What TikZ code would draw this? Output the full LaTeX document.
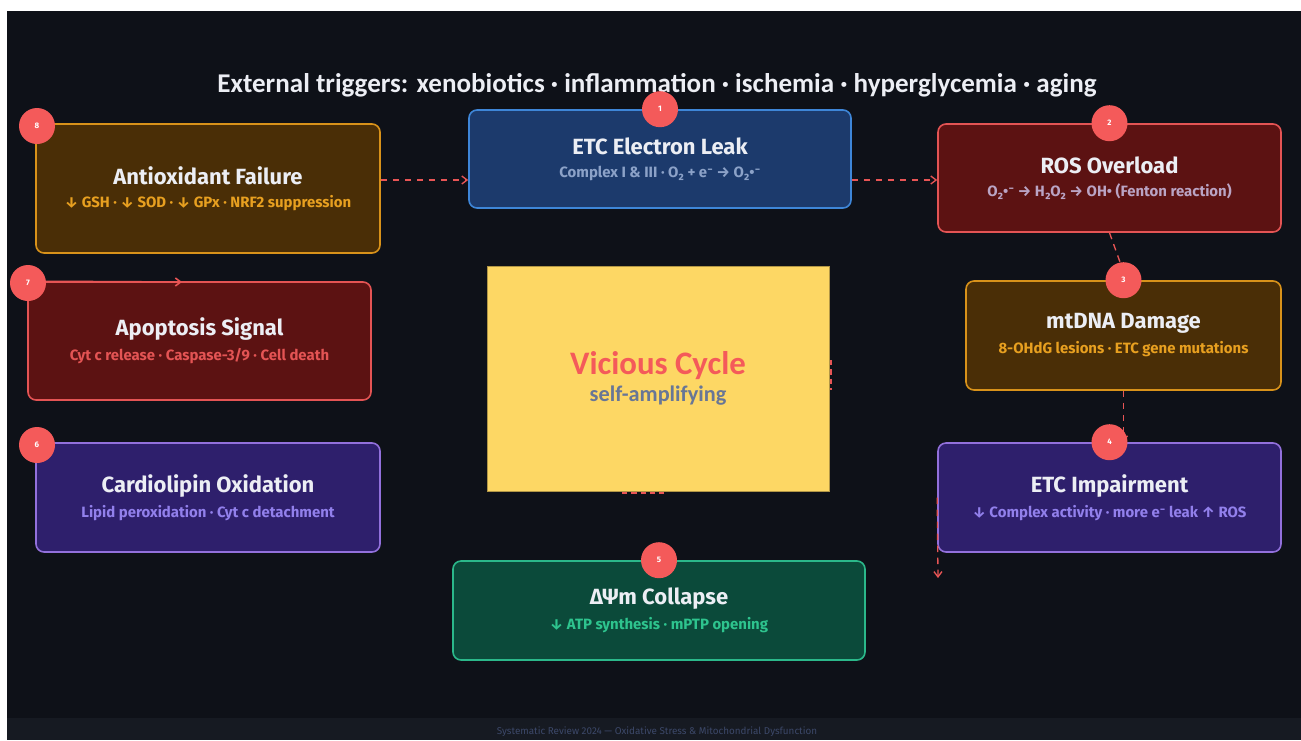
\documentclass[tikz,border=0pt]{standalone}
\usepackage{fontspec}
\setmainfont{Fira Sans}
\newfontfamily\calfont{Carlito}
\usepackage{tikz}
\usetikzlibrary{
    positioning,
    arrows.meta,
    calc
}
\definecolor{bgDark}{RGB}{14, 17, 24}
\definecolor{footBand}{RGB}{22, 26, 34}
\definecolor{footText}{RGB}{60, 72, 105}
\definecolor{textWhite}{RGB}{236, 238, 244}
\definecolor{linkRed}{RGB}{232, 85, 85}
\definecolor{badgeRed}{RGB}{244, 90, 90}
\definecolor{amberFill}{RGB}{74, 46, 6}
\definecolor{amberLine}{RGB}{216, 146, 26}
\definecolor{amberText}{RGB}{232, 160, 32}
\definecolor{navyFill}{RGB}{28, 58, 108}
\definecolor{navyLine}{RGB}{62, 134, 216}
\definecolor{navyText}{RGB}{140, 162, 200}
\definecolor{maroonFill}{RGB}{92, 18, 18}
\definecolor{maroonLine}{RGB}{228, 84, 84}
\definecolor{maroonText}{RGB}{186, 164, 196}
\definecolor{violetFill}{RGB}{46, 31, 108}
\definecolor{violetLine}{RGB}{146, 112, 220}
\definecolor{violetText}{RGB}{146, 128, 236}
\definecolor{greenFill}{RGB}{11, 74, 58}
\definecolor{greenLine}{RGB}{43, 184, 138}
\definecolor{greenText}{RGB}{46, 196, 142}
\definecolor{cycleFill}{RGB}{253, 215, 100}
\definecolor{cycleGray}{RGB}{104, 118, 150}

\newcommand{\hd}[1]{{\fontsize{16.5}{18}\selectfont\bfseries\color{textWhite}#1}}
\newcommand{\subln}[2]{{\fontsize{11.2}{13}\selectfont\bfseries\color{#1}#2}}

\begin{document}
\begin{tikzpicture}[x=0.75pt, y=-0.75pt, >={Straight Barb[length=4pt, width=6pt]},
    box/.style={draw, rounded corners=6pt, line width=1.2pt, align=center,
        inner sep=0pt},
    badge/.style={circle, fill=badgeRed, minimum size=27pt, inner sep=0pt,
        text=white, font=\fontsize{6}{6}\selectfont\bfseries},
    flow/.style={->, dashed, line width=1pt, linkRed, dash pattern=on 5pt off 4pt}
    ]
    \useasboundingbox (0,0) rectangle (1301,740);
    \fill[white] (0,0) rectangle (1301,740);
    \fill[bgDark] (7,11) rectangle (1301,740);
    \fill[footBand] (7,718) rectangle (1301,740);

    \node[font=\calfont\fontsize{20.3}{22}\selectfont\bfseries, text=textWhite] (triggers) at (657,85)
        {External triggers: xenobiotics · inflammation · ischemia · hyperglycemia · aging};

    % fragments of the loop behind the centre panel
    \draw[dashed, line width=1.2pt, linkRed, dash pattern=on 4pt off 3pt] (831,360) -- (831,390);
    \draw[dashed, line width=1.2pt, linkRed, dash pattern=on 4pt off 3pt] (622,493) -- (664,493);

    % boxes
    \node[box, fill=amberFill, draw=amberLine, minimum width=258pt, minimum height=96.75pt] (aox) at (208,188.5)
        {\hd{Antioxidant Failure}\\[5pt]\subln{amberText}{↓ GSH · ↓ SOD · ↓ GPx · NRF2 suppression}};
    \node[box, fill=navyFill, draw=navyLine, minimum width=286.5pt, minimum height=73.5pt] (leak) at (660,159)
        {\hd{ETC Electron Leak}\\[5pt]\subln{navyText}{Complex I \& III · O₂ + e⁻ → O₂•⁻}};
    \node[box, fill=maroonFill, draw=maroonLine, minimum width=257.25pt, minimum height=81pt] (ros) at (1109.5,178)
        {\hd{ROS Overload}\\[5pt]\subln{maroonText}{O₂•⁻ → H₂O₂ → OH• (Fenton reaction)}};
    \node[box, fill=maroonFill, draw=maroonLine, minimum width=257.25pt, minimum height=88.5pt] (apo) at (199.5,341)
        {\hd{Apoptosis Signal}\\[5pt]\subln{maroonLine}{Cyt c release · Caspase-3/9 · Cell death}};
    \node[box, fill=amberFill, draw=amberLine, minimum width=236.25pt, minimum height=81.75pt] (mtdna) at (1123.5,335.5)
        {\hd{mtDNA Damage}\\[5pt]\subln{amberText}{8-OHdG lesions · ETC gene mutations}};
    \node[box, fill=violetFill, draw=violetLine, minimum width=258pt, minimum height=81.75pt] (cardio) at (208,497.5)
        {\hd{Cardiolipin Oxidation}\\[5pt]\subln{violetText}{Lipid peroxidation · Cyt c detachment}};
    \node[box, fill=violetFill, draw=violetLine, minimum width=257.25pt, minimum height=81.75pt] (eimp) at (1109.5,497.5)
        {\hd{ETC Impairment}\\[5pt]\subln{violetText}{↓ Complex activity · more e⁻ leak ↑ ROS}};
    \node[box, fill=greenFill, draw=greenLine, minimum width=309pt, minimum height=74.25pt] (dpsi) at (659,610.5)
        {\hd{ΔΨm Collapse}\\[5pt]\subln{greenText}{↓ ATP synthesis · mPTP opening}};

    % centre panel
    \node[fill=cycleFill, draw=cycleFill!70!black, line width=0.4pt, minimum width=256.5pt, minimum height=168.75pt,
        align=center, inner sep=0pt] (cycle) at (658,378.5)
        {{\calfont\fontsize{24.6}{26}\selectfont\bfseries\color{badgeRed}Vicious Cycle}\\[4pt]
         {\calfont\fontsize{16.7}{18}\selectfont\bfseries\color{cycleGray}self-amplifying}};

    % connectors
    \coordinate (lane) at (0,180);
    \coordinate (drop) at (938,578);
    \coordinate (apoTip) at (182,282);
    \draw[flow] (aox.east |- lane) -- (leak.west |- lane);
    \draw[flow] (leak.east |- lane) -- (ros.west |- lane);
    \draw[flow, -] (ros.south) -- (1125,276);
    \draw[flow] (mtdna.south) -- (mtdna.south |- eimp.north);
    \draw[flow] (eimp.west) -- (drop);
    \draw[->, line width=1.2pt, linkRed] (apo.north west) -- (apoTip);

    % step badges
    \node[badge] (b1) at (leak.north) {1};
    \node[badge] (b2) at (ros.north) {2};
    \node[badge] (b3) at (mtdna.north) {3};
    \node[badge] (b4) at (eimp.north) {4};
    \node[badge] (b5) at (dpsi.north) {5};
    \node[badge] (b6) at (37,445) {6};
    \node[badge] (b7) at (28,283) {7};
    \node[badge] (b8) at (37,126) {8};

    \node[font=\fontsize{7.4}{8}\selectfont, text=footText] (footer) at (657,732)
        {Systematic Review 2024 — Oxidative Stress \& Mitochondrial Dysfunction};
\end{tikzpicture}
\end{document}
